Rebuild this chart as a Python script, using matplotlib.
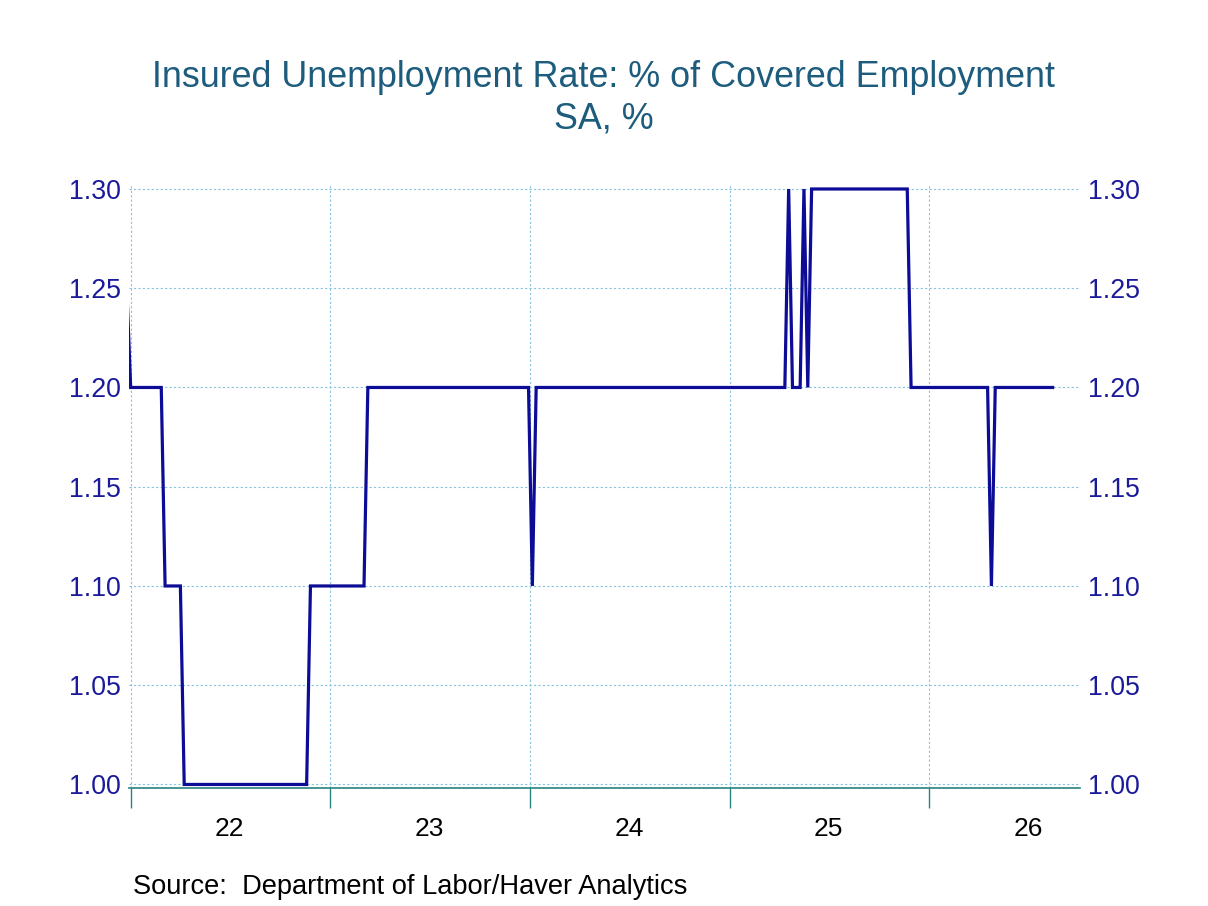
import numpy as np
import pandas as pd
import matplotlib
matplotlib.use("Agg")
import matplotlib.pyplot as plt
import matplotlib.dates as mdates

plt.rcParams["font.family"] = ["Liberation Sans", "DejaVu Sans"]

# weekly insured unemployment rate, kept as runs of equal readings
first_week = "2021-12-25"
run_values = [1.25, 1.20, 1.10, 1.00, 1.10, 1.20, 1.10, 1.20,
              1.30, 1.20, 1.30, 1.20, 1.30, 1.20, 1.10, 1.20]
run_weeks = [1, 9, 5, 33, 15, 43, 1, 66,
             1, 3, 1, 1, 26, 21, 1, 16]
year_labels = ["22", "23", "24", "25", "26"]
y_ticks = [1.00, 1.05, 1.10, 1.15, 1.20, 1.25, 1.30]

rate = np.repeat(run_values, run_weeks)
weeks = pd.date_range(first_week, periods=len(rate), freq="7D")

line_col = "#0c0c96"
grid_col = "#86c4dc"
axis_col = "#2a8282"
label_col = "#1a1a9a"
title_col = "#1d5c7c"

fig = plt.figure(figsize=(12.08, 9.06), dpi=100)
ax = fig.add_axes([0.1068, 0.1302, 0.894 - 0.1068, 0.7958 - 0.1302])

ax.plot(weeks, rate, color=line_col, lw=2.3, solid_joinstyle="miter")

ax.set_xlim(pd.Timestamp("2021-12-29"), pd.Timestamp("2026-10-04"))
ax.set_ylim(0.9982, 1.302)

# year boundaries get the tick marks, mid-year gets the labels
ax.xaxis.set_major_locator(mdates.YearLocator())
ax.xaxis.set_major_formatter(plt.NullFormatter())
ax.xaxis.set_minor_locator(mdates.MonthLocator(bymonth=7, bymonthday=1))
ax.xaxis.set_minor_formatter(mdates.DateFormatter("%y"))
ax.tick_params(axis="x", which="major", length=14.5, width=1, color=axis_col, direction="out")
ax.tick_params(axis="x", which="minor", length=0, pad=21, labelsize=19, labelcolor="black")

ax.set_yticks(y_ticks)
ax.set_yticklabels([f"{v:.2f}" for v in y_ticks])
ax.tick_params(axis="y", length=0, pad=6, labelsize=19.3, labelcolor=label_col,
               labelleft=True, labelright=True)

ax.grid(True, which="major", color=grid_col, lw=0.8, ls=(0, (2, 2)))
for side in ["left", "right", "top"]:
    ax.spines[side].set_visible(False)
ax.spines["bottom"].set_color(axis_col)
ax.spines["bottom"].set_linewidth(1.2)

fig.text(0.5, 0.915, "Insured Unemployment Rate: % of Covered Employment",
         ha="center", va="center", fontsize=25.8, color=title_col)
fig.text(0.5, 0.869, "SA, %", ha="center", va="center", fontsize=25.8, color=title_col)
fig.text(0.110, 0.021, "Source:  Department of Labor/Haver Analytics",
         ha="left", va="center", fontsize=19.6, color="black")

fig.savefig("out.png", dpi=100)
